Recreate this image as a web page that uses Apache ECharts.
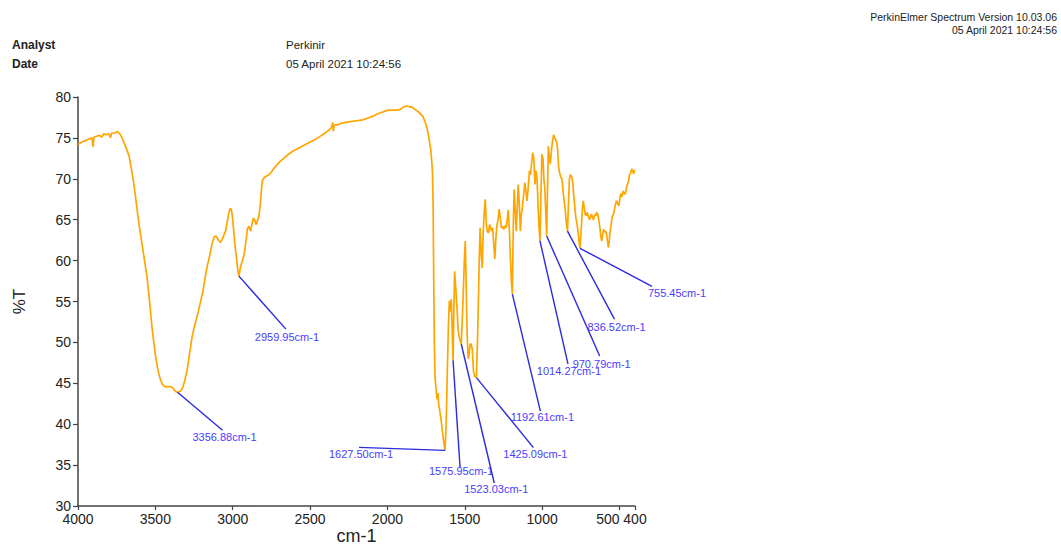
<!DOCTYPE html>
<html>
<head>
<meta charset="utf-8">
<title>PerkinElmer Spectrum</title>
<script src="https://cdn.jsdelivr.net/npm/echarts@6/dist/echarts.min.js"></script>
<style>
  html, body { margin: 0; padding: 0; background: #ffffff; }
  #chart { width: 1061px; height: 544px; }
</style>
</head>
<body>
<div id="chart"></div>
<script>
// FT-IR transmission spectrum, wavenumber (cm-1) vs %T
const wavenumbers = [
  4000, 3975, 3950, 3925, 3910, 3903, 3897, 3880, 3860, 3845, 3835, 3815, 3800, 3790, 3782, 3760, 3745, 3730, 3715, 3700,
  3685, 3670, 3655, 3640, 3625, 3610, 3590, 3570, 3555, 3540, 3520, 3500, 3485, 3470, 3455, 3440, 3420, 3400, 3385, 3370,
  3356.88, 3340, 3325, 3310, 3295, 3280, 3265, 3250, 3230, 3210, 3195, 3180, 3165, 3150, 3135, 3120, 3108, 3095, 3080, 3068,
  3055, 3045, 3035, 3025, 3016, 3008, 3000, 2992, 2984, 2975, 2967, 2959.95, 2952, 2944, 2935, 2925, 2915, 2905, 2895, 2885,
  2875, 2866, 2857, 2848, 2838, 2830, 2822, 2815, 2808, 2795, 2775, 2760, 2740, 2720, 2700, 2670, 2640, 2610, 2570, 2530,
  2490, 2450, 2410, 2375, 2360, 2354, 2350, 2346, 2340, 2320, 2300, 2270, 2240, 2200, 2160, 2130, 2100, 2070, 2040, 2010,
  1990, 1960, 1935, 1915, 1895, 1875, 1860, 1845, 1830, 1815, 1800, 1785, 1770, 1760, 1750, 1742, 1735, 1728, 1720, 1714,
  1709, 1705, 1701, 1697, 1692, 1686, 1681, 1677, 1673, 1669, 1664, 1655, 1645, 1636, 1627.5, 1620, 1613, 1606, 1600, 1593,
  1587, 1581, 1575.95, 1571, 1566, 1558, 1550, 1543, 1536, 1529, 1523.03, 1517, 1510, 1503, 1497, 1491, 1485, 1478, 1472, 1466,
  1459, 1452, 1444, 1436, 1430, 1425.09, 1419, 1413, 1407, 1401, 1393, 1387, 1381, 1374, 1368, 1361, 1355, 1347, 1340, 1333,
  1326, 1320, 1313, 1306, 1300, 1293, 1285, 1278, 1270, 1263, 1255, 1248, 1240, 1233, 1226, 1219, 1212, 1206, 1199, 1192.61,
  1187, 1181, 1175, 1168, 1162, 1155, 1148, 1141, 1135, 1128, 1120, 1112, 1105, 1098, 1090, 1082, 1075, 1068, 1061, 1054,
  1047, 1040, 1033, 1027, 1020, 1014.27, 1008, 1002, 995, 989, 983, 976, 970.79, 965, 960, 953, 947, 940, 933, 926,
  920, 913, 906, 900, 894, 888, 880, 872, 865, 858, 850, 843, 836.52, 830, 824, 818, 810, 803, 796, 789,
  782, 775, 768, 761, 755.45, 749, 742, 735, 729, 722, 715, 708, 702, 695, 688, 681, 675, 668, 661, 654,
  647, 640, 633, 627, 621, 615, 609, 602, 596, 590, 584, 578, 572, 566, 560, 553, 546, 540, 533, 526,
  519, 512, 505, 498, 491, 484, 477, 470, 463, 456, 449, 442, 435, 428, 421, 415, 408, 404
];

const transmittance = [
  74.2, 74.5, 74.7, 74.9, 75.0, 73.9, 75.1, 75.2, 75.3, 75.1, 75.5, 75.4, 75.5, 75.0, 75.6, 75.6, 75.8, 75.5, 75.0, 74.3,
  73.6, 72.8, 71.2, 69.5, 67.3, 65.0, 62.5, 60.0, 58.2, 55.5, 51.5, 48.5, 46.8, 45.6, 44.9, 44.6, 44.6, 44.6, 44.4, 44.0,
  43.9, 44.0, 44.4, 45.3, 46.6, 48.5, 50.4, 51.8, 53.2, 54.8, 56.0, 57.7, 59.3, 60.5, 61.9, 62.9, 63.0, 62.6, 62.2, 62.6,
  63.2, 63.7, 64.8, 65.8, 66.4, 66.2, 65.0, 63.3, 61.6, 60.2, 58.8, 58.1, 59.0, 59.6, 60.1, 60.9, 62.3, 63.9, 64.2, 63.6,
  64.5, 65.2, 64.9, 64.4, 65.0, 65.5, 66.8, 68.5, 69.8, 70.2, 70.4, 70.6, 71.1, 71.6, 72.0, 72.5, 73.0, 73.4, 73.8, 74.2,
  74.6, 75.0, 75.5, 76.0, 76.3, 76.9, 75.8, 76.4, 76.6, 76.6, 76.8, 76.9, 77.0, 77.1, 77.2, 77.4, 77.6, 77.9, 78.1, 78.3,
  78.4, 78.4, 78.4, 78.5, 78.8, 78.9, 78.8, 78.8, 78.6, 78.4, 78.2, 77.9, 77.6, 77.1, 76.6, 76.0, 75.3, 74.5, 73.5, 72.2,
  70.8, 67.0, 58.0, 50.0, 45.5, 44.4, 43.3, 43.0, 43.8, 42.4, 41.9, 40.8, 39.2, 37.8, 36.8, 40.5, 46.5, 52.0, 55.1, 53.8,
  55.3, 51.0, 47.8, 53.5, 58.7, 56.5, 54.0, 51.5, 50.6, 50.2, 49.8, 52.5, 56.0, 60.0, 62.4, 57.0, 51.0, 48.0, 48.6, 49.8,
  49.8, 49.2, 46.5, 45.8, 45.8, 45.7, 49.5, 54.2, 60.0, 64.0, 60.5, 59.1, 63.6, 66.0, 67.5, 64.5, 63.6, 63.4, 64.4, 64.0,
  63.6, 64.0, 62.0, 60.2, 62.5, 64.2, 65.0, 66.3, 65.2, 64.0, 64.2, 63.8, 64.3, 64.0, 65.0, 66.2, 63.8, 60.5, 57.5, 55.9,
  64.0, 68.7, 66.5, 63.6, 66.0, 69.3, 67.0, 63.6, 65.5, 66.5, 68.0, 69.5, 68.5, 67.3, 69.0, 71.0, 70.5, 72.0, 73.2, 72.5,
  69.3, 71.0, 70.0, 67.0, 64.0, 62.4, 68.0, 73.0, 72.5, 70.0, 68.9, 65.5, 63.0, 69.0, 74.0, 72.5, 71.8, 73.5, 74.6, 75.4,
  75.0, 74.8, 74.5, 73.5, 71.5, 70.8, 70.2, 70.0, 68.5, 67.3, 66.0, 64.5, 63.6, 67.0, 70.0, 70.5, 70.3, 69.7, 68.0, 66.5,
  65.2, 64.5, 63.5, 62.3, 61.5, 63.5, 65.7, 67.3, 66.6, 65.7, 65.5, 65.9, 65.4, 65.0, 65.4, 65.7, 65.2, 65.0, 65.6, 65.5,
  65.9, 65.6, 64.8, 64.0, 63.0, 62.4, 63.2, 63.8, 63.5, 63.6, 63.2, 62.4, 61.6, 62.5, 63.6, 64.6, 65.5, 65.6, 66.2, 66.9,
  67.3, 67.0, 66.7, 67.5, 68.2, 67.8, 68.5, 68.3, 68.1, 68.8, 69.3, 69.7, 70.5, 70.7, 71.2, 71.0, 70.6, 71.1
];

// Picked peaks
const peakWavenumbers = [3356.88, 2959.95, 1627.50, 1575.95, 1523.03, 1425.09, 1192.61, 1014.27, 970.79, 836.52, 755.45];
const peakTransmittance = [43.9, 58.1, 36.8, 47.8, 49.8, 45.7, 55.9, 62.4, 63.0, 63.6, 61.5];
const peakLabels = peakWavenumbers.map(w => w.toFixed(2) + 'cm-1');

// Wavenumber ticks; 500 is labelled on its own axis so it can sit flush against 400
const xTickValues = [4000, 3500, 3000, 2500, 2000, 1500, 1000, 500, 400];
const xLabelValues = [4000, 3500, 3000, 2500, 2000, 1500, 1000, 400];
const xLabelValuesTail = [500];

// Leader line from each peak: end offset in px, then label offset from the leader end
const calloutLeaders = [[45, 38], [47, 53], [-86, -3], [7, 107], [33, 139], [57, 70], [28, 117], [28, 123], [53, 120], [47, 88], [72, 38]];
const calloutTextOffsets = [[2, 7], [1, 8], [2, 7], [1, 4], [2, 6], [2, 6], [2, 6], [1, 7], [2, 8], [2, 8], [25, 7]];

const FONT = '"Liberation Sans", Arial, Helvetica, sans-serif';
const AXIS_COLOR = '#444';
const TICK_LABEL = { fontSize: 14, color: '#222', fontFamily: FONT };

const spectrum = wavenumbers.map((w, i) => [w, transmittance[i]]);
const peaks = peakWavenumbers.map((w, i) => [w, peakTransmittance[i]]);

const chart = echarts.init(document.getElementById('chart'), null, { renderer: 'svg' });

chart.setOption({
  animation: false,
  backgroundColor: '#ffffff',
  textStyle: { fontFamily: FONT },
  grid: { left: 78, right: 426, top: 97, bottom: 38, containLabel: false, outerBoundsMode: 'none' },
  xAxis: [
    {
      type: 'value',
      inverse: true,
      min: 400,
      max: 4000,
      position: 'bottom',
      name: 'cm-1',
      nameLocation: 'middle',
      nameGap: 21,
      nameMoveOverlap: false,
      nameTextStyle: { fontSize: 18, lineHeight: 17, color: '#222', fontFamily: FONT, verticalAlign: 'top' },
      axisLine: { show: true, onZero: false, lineStyle: { color: AXIS_COLOR, width: 1.5 } },
      axisTick: { show: true, length: 4, customValues: xTickValues, lineStyle: { color: AXIS_COLOR, width: 1.2 } },
      axisLabel: Object.assign({
        customValues: xLabelValues, margin: 6, hideOverlap: false,
        showMinLabel: true, showMaxLabel: true,
        formatter: v => String(v)
      }, TICK_LABEL),
      splitLine: { show: false }
    },
    {
      type: 'value',
      inverse: true,
      min: 400,
      max: 4000,
      position: 'bottom',
      axisLine: { show: false, onZero: false },
      axisTick: { show: false },
      axisLabel: Object.assign({
        customValues: xLabelValuesTail, margin: 6, align: 'right', hideOverlap: false,
        showMinLabel: false, showMaxLabel: false,
        formatter: v => String(v)
      }, TICK_LABEL),
      splitLine: { show: false }
    }
  ],
  yAxis: {
    type: 'value',
    min: 30,
    max: 80,
    interval: 5,
    name: '%T',
    nameLocation: 'middle',
    nameRotate: 90,
    nameGap: 50,
    nameTextStyle: { fontSize: 17, color: '#222', fontFamily: FONT },
    axisLine: { show: true, onZero: false, lineStyle: { color: AXIS_COLOR, width: 1.5 } },
    axisTick: { show: true, length: 5, lineStyle: { color: AXIS_COLOR, width: 1.2 } },
    axisLabel: Object.assign({ margin: 7, formatter: v => String(v) }, TICK_LABEL),
    splitLine: { show: false }
  },
  graphic: [
    { type: 'text', x: 12, y: 45, style: { text: 'Analyst', fontSize: 12, fontWeight: 'bold', fontFamily: FONT, fill: '#222', verticalAlign: 'middle' } },
    { type: 'text', x: 12, y: 64, style: { text: 'Date', fontSize: 12, fontWeight: 'bold', fontFamily: FONT, fill: '#222', verticalAlign: 'middle' } },
    { type: 'text', x: 286, y: 45, style: { text: 'Perkinir', fontSize: 11.5, fontFamily: FONT, fill: '#222', verticalAlign: 'middle' } },
    { type: 'text', x: 286, y: 64, style: { text: '05 April 2021 10:24:56', fontSize: 11.5, fontFamily: FONT, fill: '#222', verticalAlign: 'middle' } },
    { type: 'text', x: 1057, y: 17, style: { text: 'PerkinElmer Spectrum Version 10.03.06', fontSize: 10.5, fontFamily: FONT, fill: '#222', align: 'right', verticalAlign: 'middle' } },
    { type: 'text', x: 1057, y: 30, style: { text: '05 April 2021 10:24:56', fontSize: 10.5, fontFamily: FONT, fill: '#222', align: 'right', verticalAlign: 'middle' } }
  ],
  series: [
    {
      type: 'line',
      data: spectrum,
      showSymbol: false,
      symbol: 'none',
      lineStyle: { color: '#ffa500', width: 1.7 },
      itemStyle: { color: '#ffa500' },
      z: 2
    },
    {
      type: 'custom',
      data: peaks,
      clip: false,
      z: 3,
      renderItem: function (params, api) {
        const i = params.dataIndex;
        const p = api.coord([api.value(0), api.value(1)]);
        const lead = calloutLeaders[i];
        const off = calloutTextOffsets[i];
        const ex = p[0] + lead[0];
        const ey = p[1] + lead[1];
        return {
          type: 'group',
          children: [
            { type: 'line', shape: { x1: p[0], y1: p[1], x2: ex, y2: ey }, style: { stroke: '#2b2be0', lineWidth: 1.4 } },
            { type: 'text', x: ex + off[0], y: ey + off[1], style: { text: peakLabels[i], fontSize: 11, fontFamily: FONT, fill: '#4a3cff', align: 'center', verticalAlign: 'middle' } }
          ]
        };
      }
    }
  ]
});
</script>
</body>
</html>
